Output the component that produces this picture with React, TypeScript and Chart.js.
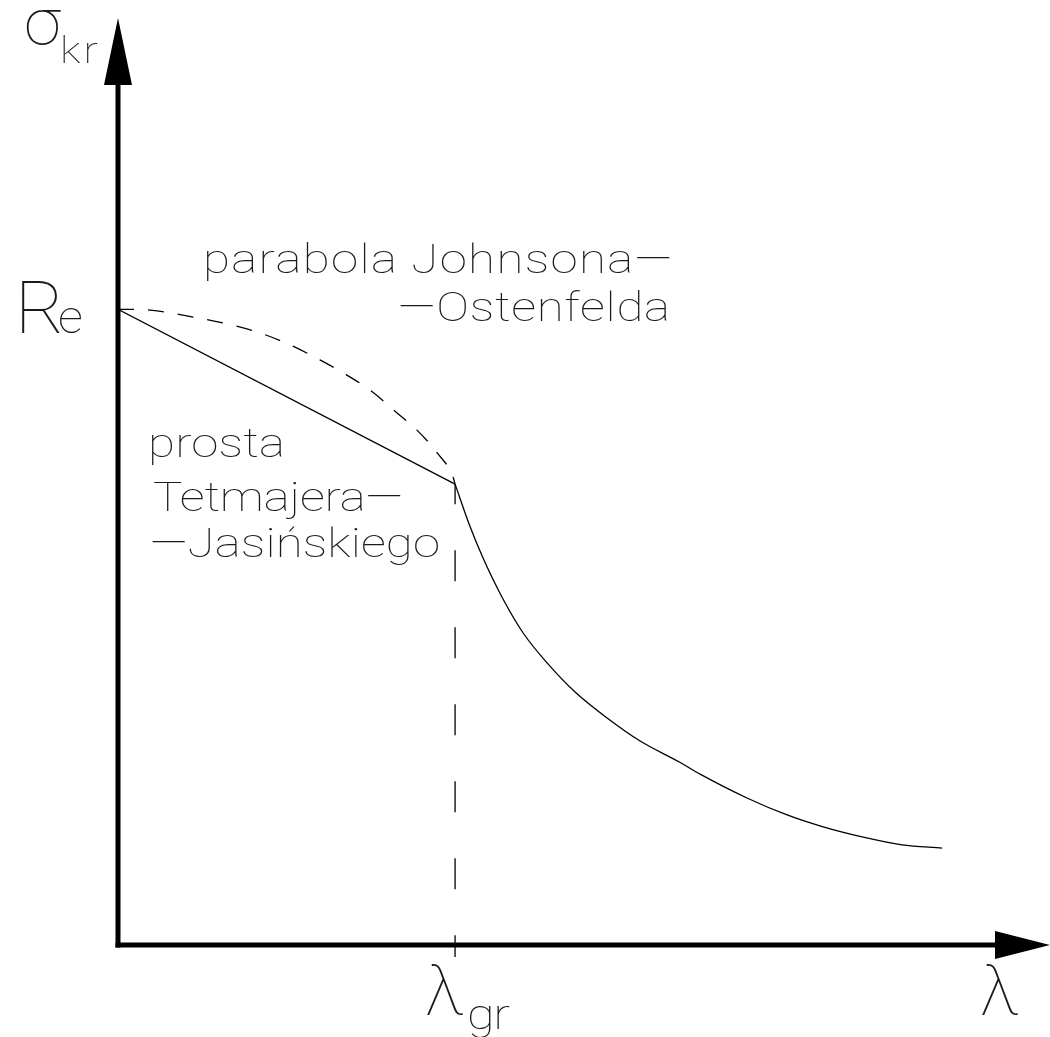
import React, { useEffect, useRef } from "react";
import { Chart, registerables } from "chart.js";

Chart.register(...registerables);

// slenderness λ and critical stress σkr (arbitrary units)
const LAMBDA_MAX = 276.5;
const SIGMA_MAX = 350;
const RE = 240;
const LAMBDA_GR = 100;
const SIGMA_GR = 174;

const TETMAJER_LAMBDA = [0, LAMBDA_GR];
const TETMAJER_SIGMA = [RE, SIGMA_GR];

const JOHNSON_LAMBDA = [0, 5, 11.6, 22.3, 32.3, 42.1, 51, 59.9, 66.8, 74.8, 82.8, 88.7, 94.7, 99.4, 100];
const JOHNSON_SIGMA = [240, 240, 239.4, 237.1, 234.5, 231.1, 226.6, 220.9, 216, 209.5, 200.9, 194.4, 185.8, 176.7, 174];

const EULER_LAMBDA = [100, 104.5, 108.3, 113.9, 120.2, 127.3, 135.6, 145.1, 154.9, 166.8, 172.7, 186.6, 198.5, 209.2, 220.8, 232.6, 244.5];
const EULER_SIGMA = [174, 157.8, 146.1, 131.4, 117.8, 106.5, 95.5, 85.7, 77.0, 68.9, 64.5, 55.5, 49.1, 44.6, 40.8, 37.8, 36.6];

const GR_LINE_LAMBDA = [LAMBDA_GR, LAMBDA_GR];
const GR_LINE_SIGMA = [SIGMA_GR, -4.5];

const pts = (xs: number[], ys: number[]) => xs.map((x, i) => ({ x, y: ys[i] }));

const FONT = "Roboto, 'DejaVu Sans', sans-serif";
const INK = "#1a1a1a";

// text drawn at a left edge and baseline, widened and spread to a given width
function fitText(
  ctx: CanvasRenderingContext2D,
  text: string,
  left: number,
  base: number,
  size: number,
  width: number,
  sx = 1.2
) {
  ctx.save();
  ctx.translate(left, base);
  ctx.scale(sx, 1);
  ctx.font = `100 ${size}px ${FONT}`;
  (ctx as any).letterSpacing = "0px";
  const n = Array.from(text).length;
  const w = ctx.measureText(text).width;
  if (n > 1) {
    const s = (width / sx - w) / (n - 1);
    (ctx as any).letterSpacing = `${s}px`;
  }
  ctx.fillText(text, 0, 0);
  ctx.restore();
}

const axesPlugin = {
  id: "axesArrows",
  afterDatasetsDraw(chart: any) {
    const { ctx } = chart;
    const xs = chart.scales.x;
    const ys = chart.scales.y;
    const x0 = xs.getPixelForValue(0);
    const y0 = ys.getPixelForValue(0);
    const xEnd = xs.getPixelForValue(LAMBDA_MAX);
    const yEnd = ys.getPixelForValue(SIGMA_MAX);
    ctx.save();
    ctx.fillStyle = "#000";
    ctx.strokeStyle = "#000";
    ctx.lineWidth = 5;
    ctx.lineCap = "butt";
    // y axis
    ctx.beginPath();
    ctx.moveTo(x0, y0 + 2.5);
    ctx.lineTo(x0, yEnd + 60);
    ctx.stroke();
    // x axis
    ctx.beginPath();
    ctx.moveTo(x0 - 2.5, y0);
    ctx.lineTo(xEnd - 50, y0);
    ctx.stroke();
    // arrow heads
    ctx.beginPath();
    ctx.moveTo(x0, yEnd);
    ctx.lineTo(x0 - 14, yEnd + 67);
    ctx.lineTo(x0 + 14, yEnd + 67);
    ctx.closePath();
    ctx.fill();
    ctx.beginPath();
    ctx.moveTo(xEnd, y0);
    ctx.lineTo(xEnd - 55, y0 - 14);
    ctx.lineTo(xEnd - 55, y0 + 14);
    ctx.closePath();
    ctx.fill();

    // labels
    ctx.fillStyle = INK;
    ctx.textAlign = "left";
    ctx.textBaseline = "alphabetic";
    fitText(ctx, "σ", 24, 44, 64, 38, 1.05);
    fitText(ctx, "kr", 60, 63, 36, 38, 1.2);
    fitText(ctx, "R", 15, 333, 72, 38, 1.05);
    fitText(ctx, "e", 58, 333, 47, 22, 1.05);
    fitText(ctx, "λ", 980, 1015, 68, 33, 1.05);
    fitText(ctx, "λ", 425, 1015, 68, 33, 1.05);
    fitText(ctx, "gr", 467, 1029, 42, 43, 1.2);
    fitText(ctx, "parabola Johnsona—", 203, 273, 41, 469);
    fitText(ctx, "—Ostenfelda", 398, 321, 41, 272);
    fitText(ctx, "prosta", 148, 457, 41, 137);
    fitText(ctx, "Tetmajera—", 153, 511, 41, 250);
    fitText(ctx, "—Jasińskiego", 150, 557, 41, 290);
    ctx.restore();
  },
};

export default function App() {
  const ref = useRef<HTMLCanvasElement | null>(null);

  useEffect(() => {
    if (!ref.current) return;
    const chart = new Chart(ref.current, {
      type: "scatter",
      data: {
        datasets: [
          {
            data: pts(TETMAJER_LAMBDA, TETMAJER_SIGMA),
            showLine: true,
            borderColor: "#000",
            borderWidth: 1.3,
            pointRadius: 0,
          },
          {
            data: pts(JOHNSON_LAMBDA, JOHNSON_SIGMA),
            showLine: true,
            borderColor: "#000",
            borderWidth: 1.3,
            borderDash: [16, 14],
            cubicInterpolationMode: "monotone",
            pointRadius: 0,
          },
          {
            data: pts(EULER_LAMBDA, EULER_SIGMA),
            showLine: true,
            borderColor: "#000",
            borderWidth: 1.3,
            cubicInterpolationMode: "monotone",
            pointRadius: 0,
          },
          {
            data: pts(GR_LINE_LAMBDA, GR_LINE_SIGMA),
            showLine: true,
            borderColor: "#000",
            borderWidth: 1.3,
            borderDash: [31, 46],
            borderDashOffset: 11,
            pointRadius: 0,
            clip: false,
          } as any,
        ],
      },
      options: {
        animation: false,
        responsive: false,
        layout: { padding: { left: 118, right: 0, top: 18, bottom: 92 } },
        plugins: { legend: { display: false }, tooltip: { enabled: false } },
        scales: {
          x: { type: "linear", min: 0, max: LAMBDA_MAX, display: false },
          y: { type: "linear", min: 0, max: SIGMA_MAX, display: false },
        },
      },
      plugins: [axesPlugin],
    });
    return () => chart.destroy();
  }, []);

  return (
    <div style={{ position: "absolute", left: 0, top: 0, width: 1050, height: 1037, background: "#fff" }}>
      <canvas ref={ref} width={1050} height={1037} style={{ width: 1050, height: 1037, display: "block" }} />
    </div>
  );
}
